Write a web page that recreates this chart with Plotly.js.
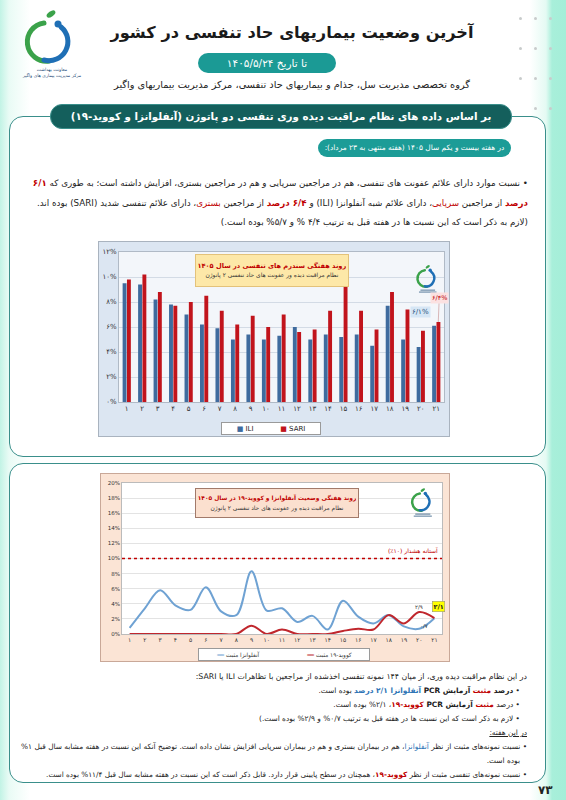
<!DOCTYPE html>
<html><head><meta charset="utf-8">
<script src="https://cdn.plot.ly/plotly-3.0.1.min.js"></script>
<style>
body{margin:0;width:566px;height:800px;overflow:hidden;position:relative;font-family:"DejaVu Sans",sans-serif;color:#222;
background:linear-gradient(to right,#c2f3e5 0px,#e9fbf5 9px,#ffffff 30px,#ffffff 530px,#e4faf3 546px,#a8efda 552px,#a4eed8 566px);}
.abs{position:absolute;}
.box{position:absolute;left:9px;width:535px;border:1.5px solid #3a8f8b;border-radius:14px;background:#fff;}
.rt{direction:rtl;text-align:right;white-space:nowrap;}
.red{color:#c00000;}
.blue{color:#2e74b5;}
.dot{position:absolute;width:3px;height:3px;border-radius:50%;background:#c8cccc;}
</style></head>
<body>
<!-- header -->
<svg class="abs" style="left:0;top:0" width="110" height="85" viewBox="0 0 110 85">
  <path d="M44 23 A19 19 0 0 0 49 61" fill="none" stroke="#3ba24a" stroke-width="5" stroke-linecap="round"/>
  <path d="M61 27 A19 19 0 0 1 44 60" fill="none" stroke="#1f6fb5" stroke-width="5" stroke-linecap="round"/>
  <circle cx="58" cy="24" r="3.5" fill="#1f6fb5"/>
  <ellipse cx="51" cy="14" rx="5" ry="2.6" transform="rotate(-35 51 14)" fill="#3ba24a"/>
  <text x="52" y="71" font-size="4.5" text-anchor="middle" fill="#1f4e79" font-family="DejaVu Sans">معاونت بهداشت</text>
  <text x="52" y="77" font-size="4.5" text-anchor="middle" fill="#1f4e79" font-family="DejaVu Sans">مرکز مدیریت بیماری های واگیر</text>
</svg>
<div class="abs rt" style="left:100px;width:384px;top:23px;text-align:center;font-size:16.2px;font-weight:bold;color:#1a1a1a;">آخرین وضعیت بیماریهای حاد تنفسی در کشور</div>
<div class="abs rt" style="left:198px;width:138px;top:53px;height:20px;line-height:20px;text-align:center;background:#1b9a95;border-radius:10px;color:#fff;font-size:10.5px;">تا تاریخ ۱۴۰۵/۵/۲۴</div>
<div class="abs rt" style="left:100px;width:384px;top:79px;text-align:center;font-size:9.8px;color:#222;">گروه تخصصی مدیریت سل، جذام و بیماریهای حاد تنفسی، مرکز مدیریت بیماریهای واگیر</div>
<div class="dot" style="left:519px;top:17px"></div><div class="dot" style="left:534px;top:17px"></div><div class="dot" style="left:549px;top:17px"></div>
<div class="dot" style="left:519px;top:47px"></div><div class="dot" style="left:534px;top:47px"></div><div class="dot" style="left:549px;top:47px"></div>
<div class="dot" style="left:519px;top:77px"></div><div class="dot" style="left:534px;top:77px"></div><div class="dot" style="left:549px;top:77px"></div>
<div class="dot" style="left:534px;top:107px"></div><div class="dot" style="left:549px;top:107px"></div>

<!-- box 1 -->
<div class="box" style="top:116px;height:339px;"></div>
<div class="abs rt" style="left:50px;width:460px;top:104px;height:23px;line-height:23px;text-align:center;background:#145f5c;border:1px solid #3a8f8b;border-radius:12px;color:#fff;font-size:10.3px;font-weight:bold;">بر اساس داده های نظام مراقبت دیده وری تنفسی دو پاتوژن (آنفلوانزا و کووید-۱۹)</div>
<div class="abs rt" style="left:318px;width:193px;top:139px;height:18px;line-height:18px;text-align:center;background:#1c9c97;border-radius:9px;color:#fff;font-size:7.4px;">در هفته بیست و یکم سال ۱۴۰۵ (هفته منتهی به ۲۳ مرداد):</div>
<div class="abs rt" style="right:38px;top:174px;font-size:8.75px;line-height:19.5px;color:#222;">
• نسبت موارد دارای علائم عفونت های تنفسی، هم در مراجعین سرپایی و هم در مراجعین بستری، افزایش داشته است؛ به طوری که <b class="red">۶/۱</b><br>
<b class="red">درصد</b> از مراجعین <span class="red">سرپایی</span>، دارای علائم شبه آنفلوانزا (ILI) و <b class="red">۶/۴ درصد</b> از مراجعین <span class="red">بستری</span>، دارای علائم تنفسی شدید (SARI) بوده اند.<br>
(لازم به ذکر است که این نسبت ها در هفته قبل به ترتیب ۴/۴ % و ۵/۷% بوده است.)
</div>
<div id="c1" class="abs" style="left:98px;top:241px;width:352px;height:196px;border:1px solid #a9b3bf;box-sizing:border-box;"></div>

<!-- box 2 -->
<div class="box" style="top:463px;height:318px;"></div>
<div id="c2" class="abs" style="left:100px;top:473px;width:350px;height:189px;border:1px solid #c9a898;box-sizing:border-box;"></div>
<div class="abs rt" style="right:39px;top:670px;font-size:7.4px;line-height:14px;color:#222;">
<span style="font-size:7.8px">در این نظام مراقبت دیده وری، از میان ۱۴۴ نمونه تنفسی اخذشده از مراجعین با تظاهرات ILI یا SARI:</span><br>
&nbsp;&nbsp;&nbsp;• <b>درصد <span class="red">مثبت</span> آزمایش PCR <span class="blue">آنفلوانزا ۲/۱ درصد</span></b> بوده است.<br>
&nbsp;&nbsp;&nbsp;• درصد <b><span class="red">مثبت</span> آزمایش PCR <span class="red">کووید-۱۹</span></b>، ۲/۱% بوده است.<br>
&nbsp;&nbsp;&nbsp;• لازم به ذکر است که این نسبت ها در هفته قبل به ترتیب ۰/۷% و ۲/۹% بوده است.)<br>
<u>در این هفته:</u><br>
• نسبت نمونه‌های مثبت از نظر <span class="blue">آنفلوانزا</span>، هم در بیماران بستری و هم در بیماران سرپایی افزایش نشان داده است. توضیح آنکه این نسبت در هفته مشابه سال قبل ۱%<br>
&nbsp;&nbsp;&nbsp;بوده است.<br>
<span style="font-size:7.3px">• نسبت نمونه‌های تنفسی مثبت از نظر <b class="red">کووید-۱۹</b>، همچنان در سطح پایینی قرار دارد. قابل ذکر است که این نسبت در هفته مشابه سال قبل ۱۱/۴% بوده است.</span>
</div>
<div class="abs" style="left:538px;top:783px;font-size:12px;font-weight:bold;color:#222;">۷۳</div>

<script>
// ---------- data ----------
const weeks = ['۱','۲','۳','۴','۵','۶','۷','۸','۹','۱۰','۱۱','۱۲','۱۳','۱۴','۱۵','۱۶','۱۷','۱۸','۱۹','۲۰','۲۱'];
const iliValues  = [9.5,9.4,8.2,7.8,7.0,6.2,5.9,5.0,5.4,5.0,5.3,6.0,5.0,5.4,5.2,5.4,4.5,7.7,5.0,4.4,6.1];
const sariValues = [9.8,10.2,8.8,7.7,8.0,8.5,7.3,6.2,6.9,6.0,7.0,5.6,5.8,7.3,10.3,7.3,5.8,8.8,7.4,5.7,6.4];
const fluValues   = [0.8,3.4,5.8,3.8,3.2,6.2,3.0,2.5,8.3,3.1,3.4,1.6,2.4,0.6,4.4,2.3,1.4,2.5,1.0,0.7,2.1];
const covidValues = [0,0,0,0,0,0,0,0,1.1,0,0.6,0,0,0,0.4,0.7,0.6,2.5,1.4,2.9,2.1];
const y1TickVals = [0,2,4,6,8,10,12];
const y1TickText = ['۰%','۲%','۴%','۶%','۸%','۱۰%','۱۲%'];
const y2TickVals = [0,2,4,6,8,10,12,14,16,18,20];
const y2TickText = ['0%','2%','4%','6%','8%','10%','12%','14%','16%','18%','20%'];
const seriesNames1 = ['ILI','SARI'];
const seriesNames2 = ['آنفلوانزا مثبت','کووید-۱۹ مثبت'];
const colors1 = ['#3f6b9e','#c1141c'];
const colors2 = ['#6fa2d3','#c0272d'];

const logoSvg = 'data:image/svg+xml;utf8,' + encodeURIComponent(
 '<svg xmlns="http://www.w3.org/2000/svg" width="60" height="60" viewBox="0 0 60 60">' +
 '<path d="M24 12 A17 17 0 0 0 28 46" fill="none" stroke="#3ba24a" stroke-width="5" stroke-linecap="round"/>' +
 '<path d="M37 15 A17 17 0 0 1 24 45" fill="none" stroke="#1f6fb5" stroke-width="5" stroke-linecap="round"/>' +
 '<circle cx="35" cy="12" r="3.5" fill="#1f6fb5"/>' +
 '<ellipse cx="30" cy="5" rx="5" ry="2.5" transform="rotate(-35 30 5)" fill="#3ba24a"/>' +
 '<rect x="15" y="52" width="30" height="1.5" fill="#1f4e79"/><rect x="12" y="56" width="36" height="1.5" fill="#1f4e79"/></svg>');

const F = '"DejaVu Sans", sans-serif';

// ---------- chart 1 ----------
Plotly.newPlot('c1', [
  {type:'bar', x:weeks, y:iliValues, name:seriesNames1[0], marker:{color:colors1[0]}},
  {type:'bar', x:weeks, y:sariValues, name:seriesNames1[1], marker:{color:colors1[1]}}
], {
  width:350, height:194,
  margin:{l:20,r:5,t:10,b:34},
  paper_bgcolor:'#dce6f2', plot_bgcolor:'#f3f6fa',
  barmode:'group', bargap:0.44, bargroupgap:0.1,
  font:{family:F, size:7, color:'#333'},
  xaxis:{type:'category', range:[-0.5, weeks.length-0.5], automargin:false, showgrid:false, tickfont:{size:7,color:'#333'}, showline:true, linecolor:'#b0bac6', mirror:true, ticks:''},
  yaxis:{range:[0,12], automargin:false, tickvals:y1TickVals, ticktext:y1TickText, gridcolor:'#d3dbe5', showline:true, linecolor:'#b0bac6', mirror:true, tickfont:{size:7,color:'#333'}, zeroline:false},
  showlegend:false,
  annotations:[
    {xref:'paper', yref:'paper', x:0.47, y:0.985, yanchor:'top', showarrow:false, borderpad:2, width:148, height:27,
     bgcolor:'#fde8a8', bordercolor:'#e3c27a', borderwidth:1,
     text:'<span style="color:#c00000;font-size:6.6px"><b>روند هفتگی سندرم های تنفسی در سال ۱۴۰۵</b></span><br><span style="font-size:5.9px">نظام مراقبت دیده ور عفونت های حاد تنفسی ۲ پاتوژن</span>',
     font:{family:F, size:7.5, color:'#333'}},
    {x:'۲۰', y:7.2, showarrow:false, text:'۶/۱%', bgcolor:'#d6e6f5', font:{family:F,size:7,color:'#1f4e79'}, borderpad:1},
    {x:'۲۱', y:6.4, xshift:2, ax:1, ay:-24, showarrow:true, arrowhead:0, arrowwidth:0.7, arrowcolor:'#c99',
     text:'۶/۴%', bgcolor:'#fbe1e1', font:{family:F,size:6.5,color:'#c00000'}, borderpad:1},
    // legend box
    {xref:'paper', yref:'paper', x:0.467, y:-0.175, yanchor:'middle', showarrow:false, width:96, height:9, borderpad:1,
     bgcolor:'#ffffff', bordercolor:'#9a9a9a', borderwidth:1, font:{family:F,size:7,color:'#222'},
     text:'<span style="color:'+colors1[0]+'">■</span> '+seriesNames1[0]+'            <span style="color:'+colors1[1]+'">■</span> '+seriesNames1[1]}
  ],
  images:[{source:logoSvg, xref:'paper', yref:'paper', x:0.95, y:0.93, sizex:0.09, sizey:0.22, xanchor:'center', yanchor:'top'}]
}, {staticPlot:true});

// ---------- chart 2 ----------
Plotly.newPlot('c2', [
  {type:'scatter', mode:'lines', x:weeks, y:fluValues, name:seriesNames2[0], line:{color:colors2[0], width:2, shape:'spline', smoothing:1}},
  {type:'scatter', mode:'lines', x:weeks, y:covidValues, name:seriesNames2[1], line:{color:colors2[1], width:2, shape:'spline', smoothing:1}}
], {
  width:348, height:187,
  margin:{l:21,r:7,t:9,b:27},
  paper_bgcolor:'#fbe4d5', plot_bgcolor:'#ffffff',
  font:{family:F, size:6, color:'#333'},
  xaxis:{type:'category', range:[-0.5, weeks.length-0.5], automargin:false, showgrid:false, tickfont:{size:6,color:'#333'}, showline:true, linecolor:'#bbb', mirror:true, ticks:''},
  yaxis:{range:[0,20], automargin:false, tickvals:y2TickVals, ticktext:y2TickText, gridcolor:'#e3e3e3', showline:true, linecolor:'#bbb', mirror:true, tickfont:{size:5.5,color:'#333'}, zeroline:false},
  showlegend:false,
  shapes:[{type:'line', xref:'paper', x0:0, x1:1, y0:10, y1:10, line:{color:'#c00000', width:1.5, dash:'dot'}}],
  annotations:[
    {xref:'paper', yref:'paper', x:0.485, y:0.97, yanchor:'top', showarrow:false, borderpad:2, width:158, height:24,
     bgcolor:'#fbe0cf', bordercolor:'#a27a6a', borderwidth:1,
     text:'<span style="color:#c00000;font-size:5.9px"><b>روند هفتگی وضعیت آنفلوانزا و کووید-۱۹ در سال ۱۴۰۵</b></span><br><span style="font-size:5.9px">نظام مراقبت دیده ور عفونت های حاد تنفسی ۲ پاتوژن</span>',
     font:{family:F, size:7, color:'#333'}},
    {xref:'paper', x:0.995, xanchor:'right', y:10, yanchor:'bottom', yshift:2, showarrow:false, text:'آستانه هشدار (۱۰٪)', font:{family:F,size:6,color:'#c00000'}},
    {x:'۲۱', y:3.7, xshift:4, showarrow:false, text:'<b>۲/۱</b>', bgcolor:'#ffff00', bordercolor:'#888', borderwidth:0.5, font:{family:F,size:6.5,color:'#222'}, borderpad:1},
    {x:'۲۰', y:3.6, showarrow:false, text:'۲/۹', font:{family:F,size:5.5,color:'#333'}},
    {x:'۲۰', y:1.1, xshift:5, showarrow:false, text:'۰/۷', font:{family:F,size:5.5,color:'#333'}},
    // legend box
    {xref:'paper', yref:'paper', x:0.505, y:-0.136, yanchor:'middle', showarrow:false, width:168, height:9, borderpad:1,
     bgcolor:'#ffffff', bordercolor:'#9a9a9a', borderwidth:1, font:{family:F,size:5.8,color:'#333'},
     text:'<span style="color:'+colors2[0]+'"><b>━━</b></span> '+seriesNames2[0]+'\u200E                          <span style="color:'+colors2[1]+'"><b>━━</b></span> '+seriesNames2[1]+'\u200E'}
  ],
  images:[{source:logoSvg, xref:'paper', yref:'paper', x:0.94, y:0.97, sizex:0.1, sizey:0.2, xanchor:'center', yanchor:'top'}]
}, {staticPlot:true});
</script>
</body></html>
